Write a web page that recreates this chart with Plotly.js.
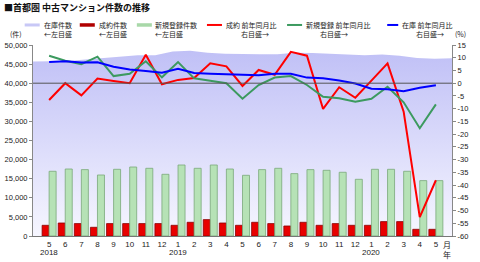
<!DOCTYPE html>
<html><head><meta charset="utf-8">
<script src="https://cdn.plot.ly/plotly-3.0.1.min.js"></script>
<style>html,body{margin:0;padding:0;background:#fff}#c{width:480px;height:262px}</style>
</head><body><div id="c"></div>
<script>
const months = ['5','6','7','8','9','10','11','12','1','2','3','4','5','6','7','8','9','10','11','12','1','2','3','4','5'];
const yearLabels = ['2018','2019','2020'];
const yearIndex = [0, 8, 20];
const seriesNames = ['在庫件数','成約件数','新規登録件数','成約 前年同月比','新規登録 前年同月比','在庫 前年同月比'];
const axisNotes = ['←左目盛','←左目盛','←左目盛','右目盛→','右目盛→','右目盛→'];
const inventory = [45700,45700,45800,46200,46600,47000,47300,47300,48300,48500,48000,47700,47600,47600,47600,48000,47900,47700,47500,47300,47500,47200,46600,46400,46500];
const contracts = [2800,3400,3250,2280,3250,3250,3250,3250,2800,3590,4290,3400,2800,3590,3250,2620,3590,2800,3250,2800,2800,3770,3770,1750,1750];
const newListings = [16940,17540,17380,15970,17460,18060,17720,16150,18590,17720,18590,17540,15890,17380,17720,16330,17380,17200,16680,14840,17460,17460,16940,14500,14500];
const contractYoY = [-6.6,0,-4.8,1.8,0.9,0,11.2,-0.4,1.3,2.0,7.8,6.6,-1.1,5.2,3.3,12.3,10.8,-10.1,-1.6,-5.7,1.0,7.8,-11.2,-52.6,-38.1];
const newYoY = [10.8,8.8,7.5,10.4,2.8,3.7,8.6,2.3,8.3,1.9,1.0,0,-6.1,-0.7,2.2,2.8,-0.7,-5.3,-5.9,-7.3,-6.1,-1.4,-7.5,-17.7,-8.3];
const invYoY = [8.3,8.6,8.1,8.2,6.5,5.4,4.8,4.1,5.7,4.0,3.7,3.5,3.1,3.1,3.7,3.7,2.2,1.9,1.1,-0.1,-2.2,-2.4,-3.2,-1.8,-0.8];
const leftTicks = [0,5000,10000,15000,20000,25000,30000,35000,40000,45000,50000];
const rightTicks = [15,10,5,0,-5,-10,-15,-20,-25,-30,-35,-40,-45,-50,-55,-60];

const idx = months.map((m,i)=>i);
const L=33.3, R=451.7, T=45, B=235.7;
const px = x => (x-L)/(R-L);
const py = y => (B-y)/(B-T);
const jp = '"Noto Sans CJK JP", sans-serif';
const num = '"Liberation Sans", Arial, sans-serif';

const traces = [
  {type:'scatter', mode:'lines', x:idx, y:inventory, xaxis:'x', yaxis:'y', name:seriesNames[0],
   line:{width:0, color:'rgba(0,0,0,0)'}, fill:'tozeroy',
   fillgradient:{type:'vertical', start:0, stop:48500, colorscale:[[0,'rgb(246,246,255)'],[1,'rgb(192,192,246)']]},
   hoverinfo:'skip'},
  {type:'bar', x:idx, y:contracts, xaxis:'x2', yaxis:'y', name:seriesNames[1],
   marker:{color:'#e80000', line:{color:'#8a0000', width:0.8}}},
  {type:'bar', x:idx, y:newListings, xaxis:'x2', yaxis:'y', name:seriesNames[2],
   marker:{color:'#b6e2b6', line:{color:'#7aa87a', width:0.8}}},
  {type:'scatter', mode:'lines', x:idx, y:contractYoY, xaxis:'x2', yaxis:'y2', name:seriesNames[3],
   line:{color:'#ff0000', width:2}},
  {type:'scatter', mode:'lines', x:idx, y:newYoY, xaxis:'x2', yaxis:'y2', name:seriesNames[4],
   line:{color:'#3c9a5f', width:2}},
  {type:'scatter', mode:'lines', x:idx, y:invYoY, xaxis:'x2', yaxis:'y2', name:seriesNames[5],
   line:{color:'#0000ff', width:2}}
];

const ann = [];
const shapes = [];
ann.push({xref:'paper', yref:'paper', x:px(2), y:py(8), xanchor:'left', yanchor:'middle', showarrow:false,
  text:'<b>■首都圏 中古マンション件数の推移</b>', font:{family:jp, size:9, color:'#111'}});
// legend
const legSym = [[25,40],[80,95],[137,152],[207,222],[287,302],[387,398]];
const legTxt = [42.5,97.5,153.5,224,304,400];
const legNote = [42.5,97.5,153,239,318,414];
const legCol = ['#c8c8f6','#b00000','#a8d8a8','#ff0000','#3c9a5f','#0000ff'];
const legW = [3,3.5,3.5,2,2,2];
for (let k=0;k<6;k++){
  shapes.push({type:'line', xref:'paper', yref:'paper', x0:px(legSym[k][0]), x1:px(legSym[k][1]), y0:py(25), y1:py(25),
    line:{color:legCol[k], width:legW[k]}});
  ann.push({xref:'paper', yref:'paper', x:px(legTxt[k]), y:py(25), xanchor:'left', yanchor:'middle', showarrow:false,
    text:seriesNames[k], font:{family:jp, size:7, color:'#222'}});
  ann.push({xref:'paper', yref:'paper', x:px(legNote[k]), y:py(34.3), xanchor:'left', yanchor:'middle', showarrow:false,
    text:axisNotes[k], font:{family:jp, size:7, color:'#222'}});
}
ann.push({xref:'paper', yref:'paper', x:px(16), y:py(34.3), xanchor:'center', yanchor:'middle', showarrow:false,
  text:'(件)', font:{family:jp, size:7, color:'#222'}});
ann.push({xref:'paper', yref:'paper', x:px(460), y:py(34.3), xanchor:'center', yanchor:'middle', showarrow:false,
  text:'(%)', font:{family:jp, size:7, color:'#222'}});
for (let k=0;k<yearLabels.length;k++){
  ann.push({xref:'x2', yref:'paper', x:yearIndex[k], y:py(252.5), xanchor:'center', yanchor:'middle', showarrow:false,
    text:yearLabels[k], font:{family:num, size:8, color:'#222'}});
}
ann.push({xref:'paper', yref:'paper', x:px(446.5), y:py(244), xanchor:'center', yanchor:'middle', showarrow:false,
  text:'月', font:{family:jp, size:8, color:'#222'}});
ann.push({xref:'paper', yref:'paper', x:px(447), y:py(254.5), xanchor:'center', yanchor:'middle', showarrow:false,
  text:'年', font:{family:jp, size:8, color:'#222'}});
shapes.push({type:'line', xref:'paper', x0:0, x1:1, yref:'y2', y0:0, y1:0, line:{color:'#555', width:1}, layer:'above'});

const layout = {
  width:480, height:262, margin:{l:L, r:480-R, t:T, b:262-B, pad:0},
  paper_bgcolor:'#fff', plot_bgcolor:'#fff', showlegend:false,
  barmode:'group', bargap:0.13, bargroupgap:0,
  xaxis:{range:[0,24], visible:false, fixedrange:true},
  xaxis2:{overlaying:'x', anchor:'y', side:'bottom', range:[-1,25], tickmode:'array', tickvals:idx, ticktext:months,
    showline:true, linecolor:'#777', linewidth:1, ticks:'', showgrid:false, zeroline:false,
    tickfont:{family:num, size:8, color:'#222'}},
  yaxis:{range:[0,50000], tickmode:'array', tickvals:leftTicks, ticktext:leftTicks.map(v=>v.toLocaleString('en-US')),
    showline:true, linecolor:'#888', linewidth:1, ticks:'outside', ticklen:3, tickcolor:'#888', showgrid:false, zeroline:false,
    tickfont:{family:num, size:7.5, color:'#222'}},
  yaxis2:{overlaying:'y', anchor:'x', side:'right', range:[-60,15], tickmode:'array', tickvals:rightTicks, ticktext:rightTicks.map(v=>String(v)),
    showline:true, linecolor:'#888', linewidth:1, ticks:'outside', ticklen:3, tickcolor:'#888', showgrid:false, zeroline:false,
    tickfont:{family:num, size:7.5, color:'#222'}},
  annotations:ann, shapes:shapes
};
Plotly.newPlot('c', traces, layout, {staticPlot:true, displayModeBar:false});
</script></body></html>
